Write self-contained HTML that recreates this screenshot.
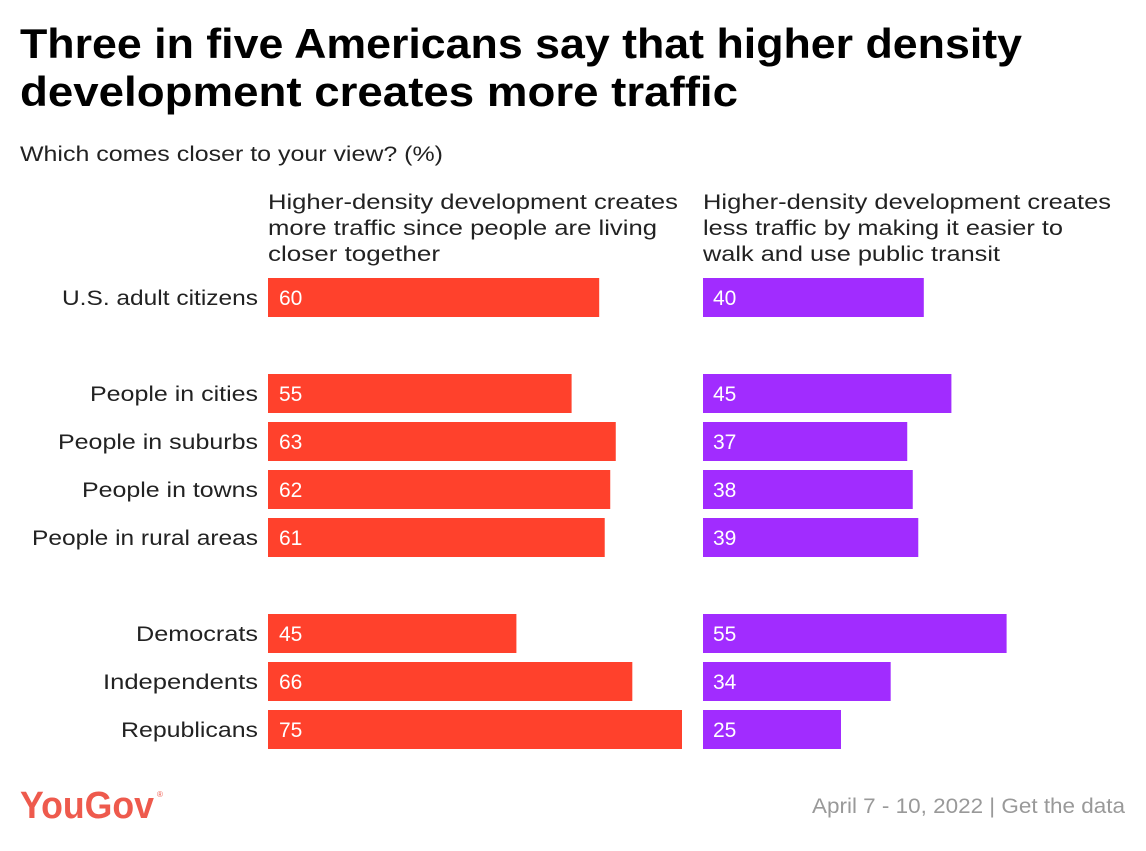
<!DOCTYPE html>
<html><head><meta charset="utf-8"><style>
body{margin:0;width:1146px;height:846px;background:#fff;overflow:hidden;font-family:"Liberation Sans",sans-serif;}
</style></head><body>
<svg width="1146" height="846" xmlns="http://www.w3.org/2000/svg">
<text x="20" y="58" font-size="42" font-weight="bold" fill="#000" textLength="1002" lengthAdjust="spacingAndGlyphs">Three in five Americans say that higher density</text>
<text x="20" y="106" font-size="42" font-weight="bold" fill="#000" textLength="718" lengthAdjust="spacingAndGlyphs">development creates more traffic</text>
<text x="20" y="161" font-size="21" fill="#222" textLength="423" lengthAdjust="spacingAndGlyphs">Which comes closer to your view? (%)</text>
<g font-size="21" fill="#222">
<text x="268" y="209" textLength="410" lengthAdjust="spacingAndGlyphs">Higher-density development creates</text>
<text x="268" y="235" textLength="389" lengthAdjust="spacingAndGlyphs">more traffic since people are living</text>
<text x="268" y="261" textLength="172" lengthAdjust="spacingAndGlyphs">closer together</text></g>
<g font-size="21" fill="#222">
<text x="703" y="209" textLength="408" lengthAdjust="spacingAndGlyphs">Higher-density development creates</text>
<text x="703" y="235" textLength="360" lengthAdjust="spacingAndGlyphs">less traffic by making it easier to</text>
<text x="703" y="261" textLength="297" lengthAdjust="spacingAndGlyphs">walk and use public transit</text></g>
<g id="bars"></g>
<text x="20" y="818" font-size="38" font-weight="bold" fill="#ee5a4d" textLength="134" lengthAdjust="spacingAndGlyphs">YouGov</text>
<text x="157" y="797" font-size="8" fill="#ee5a4d">®</text>
<text x="1125" y="813" font-size="21" fill="#999" text-anchor="end" textLength="313" lengthAdjust="spacingAndGlyphs">April 7 - 10, 2022 | Get the data</text>
</svg>
<script>
const categories=["U.S. adult citizens","People in cities","People in suburbs","People in towns","People in rural areas","Democrats","Independents","Republicans"];
const moreTraffic=[60,55,63,62,61,45,66,75];
const lessTraffic=[40,45,37,38,39,55,34,25];
const labelWidths=[196,168,200,176,226,122,155,137];
const rowSlots=[0,2,3,4,5,7,8,9];
const NS="http://www.w3.org/2000/svg";
const g=document.getElementById('bars');
const scale=v=>v*5.52;
const yPos=i=>278+rowSlots[i]*48;
function mk(tag,attrs){const e=document.createElementNS(NS,tag);for(const k in attrs)e.setAttribute(k,attrs[k]);return e;}
categories.forEach((c,i)=>{
 const y=yPos(i);
 const lab=mk('text',{x:258,y:y+27,'font-size':21,fill:'#222','text-anchor':'end',textLength:labelWidths[i],lengthAdjust:'spacingAndGlyphs'});
 lab.textContent=c;
 
 
 g.appendChild(lab);
 const b1=mk('rect',{x:268,y:y,width:scale(moreTraffic[i]),height:39,fill:'#ff412c'});
 
 
 g.appendChild(b1);
 const t1=mk('text',{x:279,y:y+27,'font-size':21,fill:'#fff'});
 t1.textContent=moreTraffic[i];
 
 
 g.appendChild(t1);
 const b2=mk('rect',{x:703,y:y,width:scale(lessTraffic[i]),height:39,fill:'#a12cff'});
 
 
 g.appendChild(b2);
 const t2=mk('text',{x:713,y:y+27,'font-size':21,fill:'#fff'});
 t2.textContent=lessTraffic[i];
 
 
 g.appendChild(t2);
});
</script>
</body></html>
